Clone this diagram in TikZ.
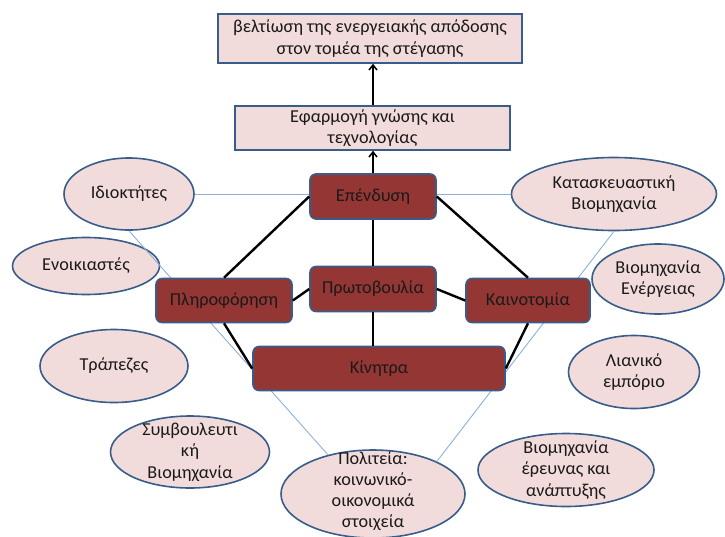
\documentclass[tikz,border=0pt]{standalone}
\usepackage{fontspec}
\setmainfont{Carlito}
\usetikzlibrary{shapes.geometric,arrows.meta}
\definecolor{pinkfill}{HTML}{F2DCDB}
\definecolor{edgeblue}{HTML}{385D8A}
\definecolor{boxred}{HTML}{943634}
\definecolor{thinblue}{HTML}{8DB0DB}
\definecolor{txt}{HTML}{1A1A1A}
\begin{document}
\begin{tikzpicture}[x=1pt,y=-1pt,
  font=\fontsize{18.2}{21.5}\selectfont, text=txt,
  ell/.style={ellipse, draw=edgeblue, line width=1.6pt, fill=pinkfill, inner sep=0pt},
  lbl/.style={align=center, inner sep=0pt},
  redbox/.style={rectangle, rounded corners=6pt, draw=edgeblue, line width=1.6pt, fill=boxred, inner sep=0pt},
  pinkbox/.style={rectangle, draw=edgeblue, line width=1.6pt, fill=pinkfill, inner sep=0pt, align=center},
  conn/.style={line width=2.4pt, black},
  thinln/.style={thinblue, line width=0.9pt},
  arr/.style={line width=1.8pt, black, -{Straight Barb[length=5pt,width=8pt,line width=1.5pt]}}
]
\useasboundingbox (0,0) rectangle (725,536);

% ellipses (shapes only)
\node[ell, minimum width=130, minimum height=72] (idio) at (129,194) {};
\node[ell, minimum width=147, minimum height=57] (enoi) at (86,266) {};
\node[ell, minimum width=148, minimum height=73] (trap) at (114,366) {};
\node[ell, minimum width=159, minimum height=72] (symv) at (190,452) {};
\node[ell, minimum width=184, minimum height=88] (pol) at (373,494) {};
\node[ell, minimum width=205, minimum height=73] (kat) at (614,194) {};
\node[ell, minimum width=132, minimum height=70] (energ) at (658,279) {};
\node[ell, minimum width=131, minimum height=73] (lian) at (634,372) {};
\node[ell, minimum width=176, minimum height=73] (erev) at (566,470) {};

% thin background lines
\draw[thinln] (idio.east) -- (kat.west);
\draw[thinln] (idio.south) -- (pol.139);
\draw[thinln] (kat.south) -- (pol.27);

% central boxes
\node[redbox, minimum width=126, minimum height=45] (epen) at (373,196.5) {};
\node[redbox, minimum width=126, minimum height=45] (prot) at (373,289) {};
\node[redbox, minimum width=136, minimum height=44] (plir) at (224,300.5) {};
\node[redbox, minimum width=124, minimum height=44] (kain) at (528,300.5) {};
\node[redbox, minimum width=252, minimum height=44] (kin) at (379,368.5) {};

% top boxes
\node[pinkbox, minimum width=304, minimum height=49] (top) at (370,38.5) {βελτίωση της ενεργειακής απόδοσης\\στον τομέα της στέγασης};
\node[pinkbox, minimum width=275, minimum height=44] (app) at (372.5,128) {Εφαρμογή γνώσης και\\τεχνολογίας};

% connectors
\draw[conn] (plir.north) -- (epen.west);
\draw[conn] (epen.east) -- (kain.north);
\draw[conn] (epen.south) -- (prot.north);
\draw[conn] (prot.south) -- (kin.north -| prot.south);
\draw[conn] (plir.east) -- (prot.west);
\draw[conn] (prot.east) -- (kain.west);
\draw[conn] (plir.south) -- (kin.west);
\draw[conn] (kain.south) -- (kin.east);
\draw[arr] (epen.north) -- (app.south -| epen.north);
\draw[arr] (app.north -| epen.north) -- (top.south -| epen.north);

% box labels
\node[lbl] (tepen) at (epen) {Επένδυση};
\node[lbl] (tprot) at (prot) {Πρωτοβουλία};
\node[lbl] (tplir) at (plir) {Πληροφόρηση};
\node[lbl] (tkain) at (kain) {Καινοτομία};
\node[lbl] (tkin) at (kin) {Κίνητρα};

% ellipse labels
\node[lbl] (tidio) at (idio) {Ιδιοκτήτες};
\node[lbl] (tenoi) at (enoi) {Ενοικιαστές};
\node[lbl] (ttrap) at (trap) {Τράπεζες};
\node[lbl] (tsymv) at (symv) {Συμβουλευτι\\κή\\Βιομηχανία};
\node[lbl, font=\fontsize{18.2}{21}\selectfont] (tpol) at (373,491) {Πολιτεία:\\κοινωνικό-\\οικονομικά\\στοιχεία};
\node[lbl] (tkat) at (kat) {Κατασκευαστική\\Βιομηχανία};
\node[lbl] (tenerg) at (energ) {Βιομηχανία\\Ενέργειας};
\node[lbl] (tlian) at (lian) {Λιανικό\\εμπόριο};
\node[lbl] (terev) at (erev) {Βιομηχανία\\έρευνας και\\ανάπτυξης};
\end{tikzpicture}
\end{document}
